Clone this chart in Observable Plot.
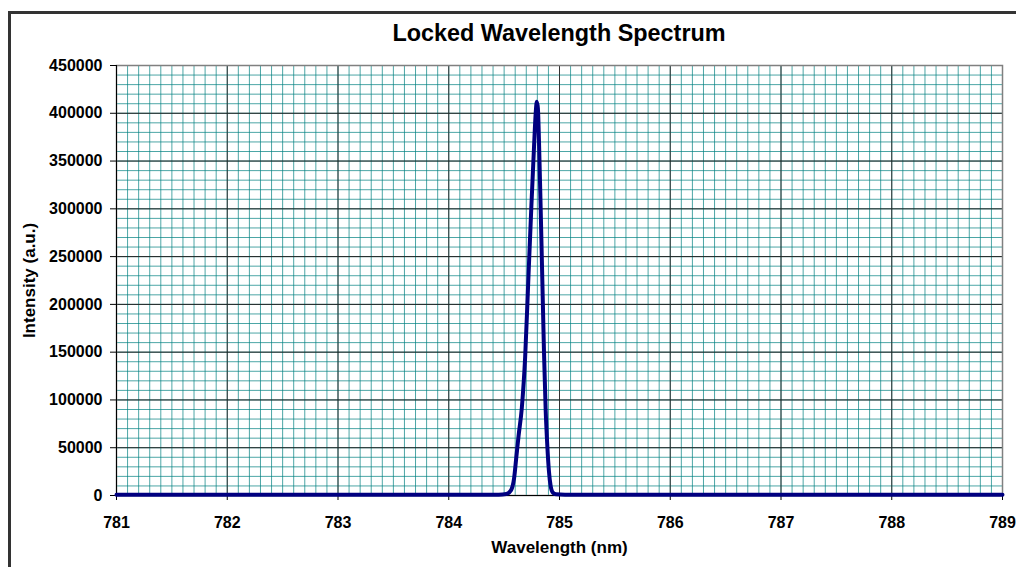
<!DOCTYPE html>
<html>
<head>
<meta charset="utf-8">
<script src="https://cdn.jsdelivr.net/npm/d3@7"></script>
<script src="https://cdn.jsdelivr.net/npm/@observablehq/plot@0.6"></script>
<style>
  html, body { margin: 0; padding: 0; background: #fff; overflow: hidden; }
  #wrap { position: relative; width: 1016px; height: 567px; font-family: "Liberation Sans", Arial, sans-serif; }
  #border { position: absolute; left: 8px; top: 11px; width: 1100px; height: 700px;
            border-left: 3px solid #333; border-top: 3px solid #333; box-sizing: border-box; }
  #title { position: absolute; left: 116px; width: 886px; top: 19px; text-align: center; line-height: 28px;
           font-weight: bold; font-size: 23.4px; color: #000; }
  #chart { position: absolute; left: 0; top: 0; }
</style>
</head>
<body>
<div id="wrap">
  <div id="border"></div>
  <div id="title">Locked Wavelength Spectrum</div>
  <div id="chart"></div>
</div>
<script>
// Data
const wavelength = [781, 782, 783, 784, 784.45, 784.52, 784.56, 784.59, 784.61, 784.63, 784.66, 784.69, 784.72, 784.745, 784.77, 784.785, 784.795, 784.805, 784.815, 784.83, 784.845, 784.86, 784.875, 784.89, 784.905, 784.92, 784.94, 784.97, 785.05, 786, 787, 788, 789];
const intensity  = [800, 900, 700, 900, 900, 1500, 5000, 18000, 40000, 62000, 92000, 145000, 230000, 300000, 365000, 400000, 412000, 405000, 370000, 300000, 225000, 150000, 90000, 52000, 25000, 10000, 3000, 1200, 800, 900, 800, 900, 800];
const xTicks = [781, 782, 783, 784, 785, 786, 787, 788, 789];
const yTicks = [0, 50000, 100000, 150000, 200000, 250000, 300000, 350000, 400000, 450000];
const xLabel = "Wavelength (nm)";
const yLabel = "Intensity (a.u.)";

const data = wavelength.map((w, i) => ({w, v: intensity[i]}));

const chart = Plot.plot({
  width: 1016,
  height: 567,
  marginLeft: 116,
  marginRight: 14,
  marginTop: 65,
  marginBottom: 72,
  style: {fontFamily: "'Liberation Sans', Arial, sans-serif", background: "transparent", overflow: "visible"},
  x: {domain: [781, 789]},
  y: {domain: [0, 450000]},
  marks: [
    Plot.gridX({interval: 0.1, stroke: "#008080", strokeOpacity: 0.7, strokeWidth: 1}),
    Plot.gridY({interval: 10000, stroke: "#008080", strokeOpacity: 0.7, strokeWidth: 1}),
    Plot.gridX(xTicks, {stroke: "#333", strokeOpacity: 1, strokeWidth: 1}),
    Plot.gridY(yTicks, {stroke: "#222", strokeOpacity: 1, strokeWidth: 1}),
    Plot.frame({stroke: "#808080", strokeWidth: 1.5}),
    Plot.ruleX([781], {stroke: "#000", strokeWidth: 1}),
    Plot.ruleY([0], {stroke: "#000", strokeWidth: 1}),
    Plot.axisX(xTicks, {tickSize: 5, tickPadding: 16, fontSize: 16, fontWeight: "bold", stroke: "#000",
      label: null, tickFormat: d => String(d), color: "#000"}),
    Plot.axisY(yTicks, {tickSize: 6, tickPadding: 8, fontSize: 16, fontWeight: "bold", stroke: "#000",
      label: null, tickFormat: d => String(d), color: "#000"}),
    Plot.text([xLabel], {text: d => d, frameAnchor: "bottom", dy: 57, fontSize: 17, fontWeight: "bold", fill: "#000"}),
    Plot.text([yLabel], {text: d => d, frameAnchor: "left", dx: -87, rotate: -90, textAnchor: "middle", fontSize: 17, fontWeight: "bold", fill: "#000"}),
    Plot.line(data, {x: "w", y: "v", stroke: "#000080", strokeWidth: 4, curve: "monotone-x"})
  ]
});
document.getElementById("chart").appendChild(chart);
chart.querySelectorAll("text").forEach(t => { t.setAttribute("font-weight", "bold"); });
</script>
</body>
</html>
